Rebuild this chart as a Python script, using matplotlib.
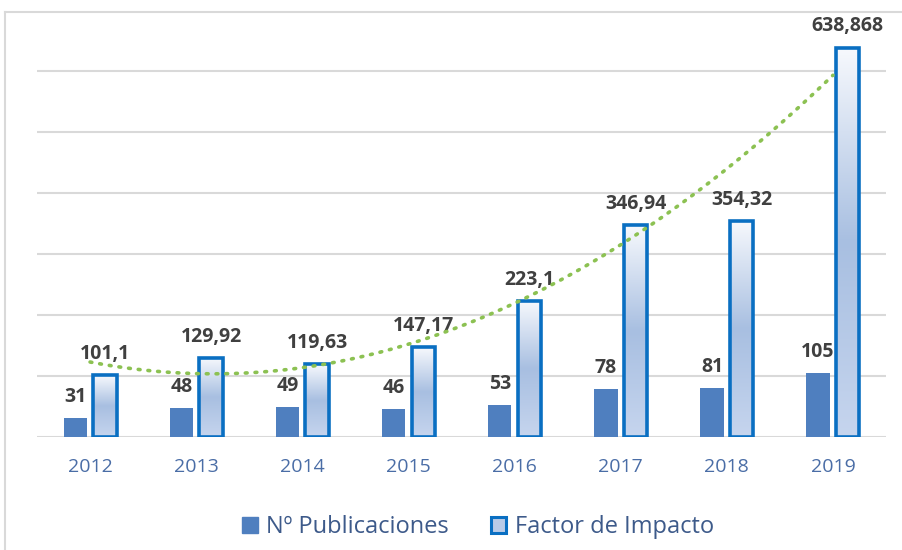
import numpy as np
import matplotlib.pyplot as plt
from matplotlib.colors import LinearSegmentedColormap
from matplotlib.lines import Line2D
from matplotlib.patches import Patch

years = ["2012", "2013", "2014", "2015", "2016", "2017", "2018", "2019"]
publicaciones = [31, 48, 49, 46, 53, 78, 81, 105]
factor = [101.1, 129.92, 119.63, 147.17, 223.1, 346.94, 354.32, 638.868]
factor_labels = ["101,1", "129,92", "119,63", "147,17", "223,1", "346,94", "354,32", "638,868"]

plt.rcParams["font.family"] = ["Open Sans", "DejaVu Sans"]

fig = plt.figure(figsize=(9.03, 5.5), dpi=100)
ax = fig.add_axes([37 / 903, 1 - 437 / 550, (886 - 37) / 903, (437 - 20) / 550])

x = np.arange(len(years))
w = 0.22
off = 0.14

# gradient for the Factor de Impacto bars
grad = LinearSegmentedColormap.from_list(
    "fi", [(0, "#c6d5ee"), (0.5, "#a8bfe1"), (1, "#f7f9fd")])

b1 = ax.bar(x - off, publicaciones, w, color="#4f7fbf", zorder=3)
b2 = ax.bar(x + off, factor, w, facecolor="none", edgecolor="#0a6fc2",
            linewidth=2.6, zorder=4)
for bar in b2:
    x0, y0 = bar.get_x(), bar.get_y()
    im = ax.imshow(np.linspace(0, 1, 256).reshape(-1, 1), cmap=grad, aspect="auto",
                   origin="lower", extent=[x0, x0 + bar.get_width(), y0, y0 + bar.get_height()],
                   zorder=3)
    im.set_clip_path(bar)

# polynomial trendline (order 2)
coef = np.polyfit(x, factor, 2)
xs = np.linspace(0, 7, 200)
ax.plot(xs, np.polyval(coef, xs), linestyle=(0, (0.5, 2.2)), color="#8cc152",
        linewidth=2.6, dash_capstyle="round", zorder=5)

for xi, v in zip(x, publicaciones):
    ax.annotate(str(v), (xi - off, v), xytext=(0, 8), textcoords="offset points",
                ha="center", va="bottom", fontsize=14, fontweight="bold", color="#404040")
for xi, v, lab in zip(x, factor, factor_labels):
    ax.annotate(lab, (xi + off, v), xytext=(0, 8), textcoords="offset points",
                ha="center", va="bottom", fontsize=14, fontweight="bold", color="#404040")

ax.set_xlim(-0.5, 7.5)
ax.set_ylim(0, 684)
ax.set_yticks(np.arange(0, 700, 100))
ax.set_yticklabels([])
ax.tick_params(axis="y", length=0)
ax.set_xticks(x)
ax.set_xticklabels(years, fontsize=14, color="#4a6da6")
ax.tick_params(axis="x", length=0, pad=15)
ax.grid(axis="y", color="#d9d9d9", linewidth=1.5, zorder=0)
ax.set_axisbelow(True)
for s in ax.spines.values():
    s.set_visible(False)

handles = [Patch(facecolor="#4f7fbf", edgecolor="#4f7fbf"),
           Patch(facecolor="#b9cbe8", edgecolor="#0a6fc2", linewidth=2.2)]
fig.legend(handles, ["Nº Publicaciones", "Factor de Impacto"], loc="center",
           bbox_to_anchor=(478 / 903, 1 - 527 / 550), ncol=2, frameon=False,
           fontsize=17, labelcolor="#3d5a8a", handlelength=0.65, handleheight=0.65,
           handletextpad=0.35, columnspacing=1.8)

# chart border
fig.add_artist(Line2D([5 / 903, 5 / 903], [0, 1 - 12 / 550], color="#d9d9d9", linewidth=1.5))
fig.add_artist(Line2D([5 / 903, 1], [1 - 12 / 550, 1 - 12 / 550], color="#d9d9d9", linewidth=1.5))

fig.savefig("out.png", dpi=100)
